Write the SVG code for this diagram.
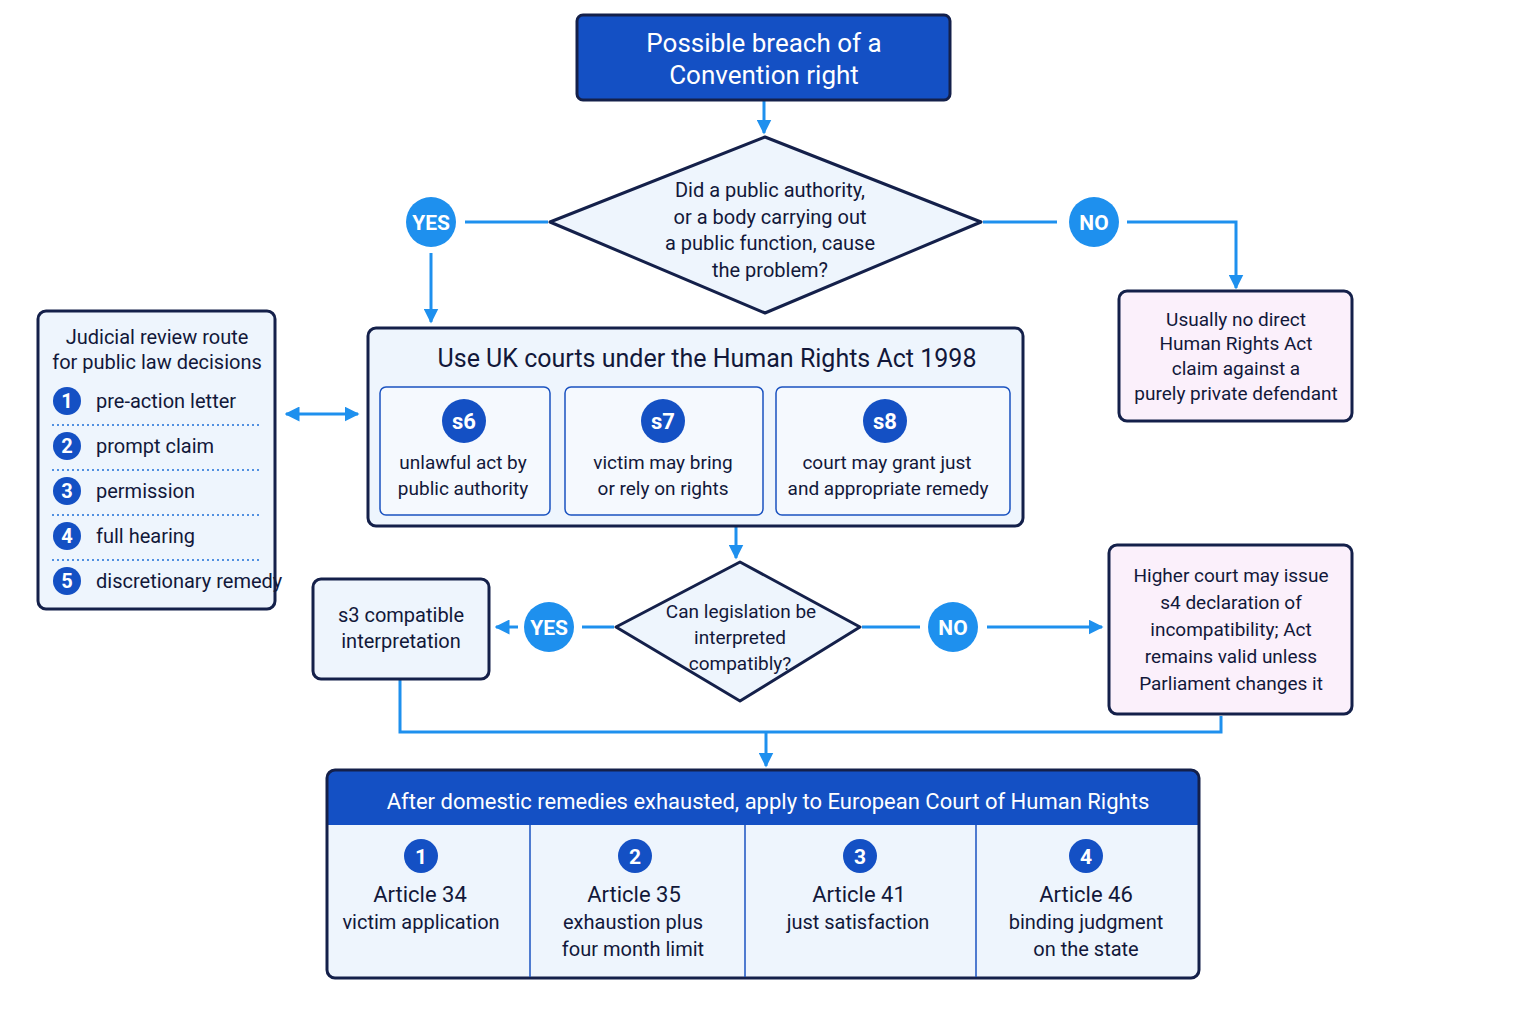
<svg xmlns="http://www.w3.org/2000/svg" width="1536" height="1024" viewBox="0 0 1536 1024">
<defs>
<marker id="ah" viewBox="0 0 10 10" refX="9" refY="5" markerWidth="5" markerHeight="5" orient="auto-start-reverse"><path d="M0,0 L10,5 L0,10 z" fill="#1e90ee"/></marker>
</defs>
<style>
text{font-family:Roboto,"Liberation Sans",sans-serif;fill:#12183a;text-anchor:middle}
.w{fill:#fff}
.lt{fill:#eef5fd;stroke:#14204a;stroke-width:3}
.pk{fill:#fbf0fb;stroke:#14204a;stroke-width:3}
.in{fill:#f5f9fe;stroke:#1a52c0;stroke-width:1.5}
.c{fill:none;stroke:#1e90ee;stroke-width:3}
.bc{fill:#1e90ee}
.dc{fill:#1450c4}
.dot{stroke:#1e6fd8;stroke-width:1.5;stroke-dasharray:2 3}
</style>
<rect width="1536" height="1024" fill="#fff"/>
<g id="connectors">
<path class="c" d="M764,100 V133" marker-end="url(#ah)"/>
<path class="c" d="M548,222 H465"/>
<path class="c" d="M431,253 V322" marker-end="url(#ah)"/>
<path class="c" d="M983,222 H1057"/>
<path class="c" d="M1127,222 H1236 V288" marker-end="url(#ah)"/>
<path class="c" d="M286,414 H358" marker-start="url(#ah)" marker-end="url(#ah)"/>
<path class="c" d="M736,527 V558" marker-end="url(#ah)"/>
<path class="c" d="M614,627 H582"/>
<path class="c" d="M518,627 H496" marker-end="url(#ah)"/>
<path class="c" d="M862,627 H920"/>
<path class="c" d="M987,627 H1102" marker-end="url(#ah)"/>
<path class="c" d="M400,680 V732 H1221 V716"/>
<path class="c" d="M766,732 V766" marker-end="url(#ah)"/>
</g>
<g id="start">
<rect x="577" y="15" width="373" height="85" rx="6" fill="#1450c4" stroke="#14204a" stroke-width="3"/>
<text x="764" y="52" font-size="26" class="w">Possible breach of a</text>
<text x="764" y="84" font-size="26" class="w">Convention right</text>
</g>
<g id="q1">
<path class="lt" d="M765,137 L981,222 L765,313 L550,222 Z" stroke-linejoin="round"/>
<text x="770" y="197" font-size="20">Did a public authority,</text>
<text x="770" y="224" font-size="20">or a body carrying out</text>
<text x="770" y="250" font-size="20">a public function, cause</text>
<text x="770" y="277" font-size="20">the problem?</text>
</g>
<g id="yes1"><circle cx="431" cy="222" r="25" class="bc"/><text x="431" y="230" font-size="21" font-weight="bold" class="w">YES</text></g>
<g id="no1"><circle cx="1094" cy="222" r="25" class="bc"/><text x="1094" y="230" font-size="21" font-weight="bold" class="w">NO</text></g>
<g id="private">
<rect x="1119" y="291" width="233" height="130" rx="8" class="pk"/>
<text x="1236" y="326" font-size="19">Usually no direct</text>
<text x="1236" y="350" font-size="19">Human Rights Act</text>
<text x="1236" y="375" font-size="19">claim against a</text>
<text x="1236" y="400" font-size="19">purely private defendant</text>
</g>
<g id="jr">
<rect x="38" y="311" width="237" height="298" rx="8" class="lt"/>
<text x="157" y="344" font-size="20">Judicial review route</text>
<text x="157" y="369" font-size="20">for public law decisions</text>
<g font-size="20">
<circle cx="67" cy="401" r="14" class="dc"/><text x="67" y="408" class="w" font-weight="bold">1</text><text x="96" y="408" style="text-anchor:start">pre-action letter</text>
<circle cx="67" cy="446" r="14" class="dc"/><text x="67" y="453" class="w" font-weight="bold">2</text><text x="96" y="453" style="text-anchor:start">prompt claim</text>
<circle cx="67" cy="491" r="14" class="dc"/><text x="67" y="498" class="w" font-weight="bold">3</text><text x="96" y="498" style="text-anchor:start">permission</text>
<circle cx="67" cy="536" r="14" class="dc"/><text x="67" y="543" class="w" font-weight="bold">4</text><text x="96" y="543" style="text-anchor:start">full hearing</text>
<circle cx="67" cy="581" r="14" class="dc"/><text x="67" y="588" class="w" font-weight="bold">5</text><text x="96" y="588" style="text-anchor:start">discretionary remedy</text>
</g>
<line x1="52" y1="425" x2="260" y2="425" class="dot"/>
<line x1="52" y1="470" x2="260" y2="470" class="dot"/>
<line x1="52" y1="515" x2="260" y2="515" class="dot"/>
<line x1="52" y1="560" x2="260" y2="560" class="dot"/>
</g>
<g id="hra">
<rect x="368" y="328" width="655" height="198" rx="8" class="lt"/>
<text x="707" y="367" font-size="25">Use UK courts under the Human Rights Act 1998</text>
<rect x="380" y="387" width="170" height="128" rx="6" class="in"/>
<rect x="565" y="387" width="198" height="128" rx="6" class="in"/>
<rect x="776" y="387" width="234" height="128" rx="6" class="in"/>
<circle cx="464" cy="421" r="22" class="dc"/><text x="464" y="429" font-size="22" font-weight="bold" class="w">s6</text>
<circle cx="663" cy="421" r="22" class="dc"/><text x="663" y="429" font-size="22" font-weight="bold" class="w">s7</text>
<circle cx="885" cy="421" r="22" class="dc"/><text x="885" y="429" font-size="22" font-weight="bold" class="w">s8</text>
<text x="463" y="469" font-size="19">unlawful act by</text><text x="463" y="495" font-size="19">public authority</text>
<text x="663" y="469" font-size="19">victim may bring</text><text x="663" y="495" font-size="19">or rely on rights</text>
<text x="887" y="469" font-size="19">court may grant just</text><text x="888" y="495" font-size="19">and appropriate remedy</text>
</g>
<g id="q2">
<path class="lt" d="M740,562 L860,627 L740,701 L616,627 Z" stroke-linejoin="round"/>
<text x="741" y="618" font-size="19">Can legislation be</text>
<text x="740" y="644" font-size="19">interpreted</text>
<text x="740" y="670" font-size="19">compatibly?</text>
</g>
<g id="yes2"><circle cx="549" cy="627" r="25" class="bc"/><text x="549" y="635" font-size="21" font-weight="bold" class="w">YES</text></g>
<g id="no2"><circle cx="953" cy="627" r="25" class="bc"/><text x="953" y="635" font-size="21" font-weight="bold" class="w">NO</text></g>
<g id="s3">
<rect x="313" y="579" width="176" height="100" rx="8" class="lt"/>
<text x="401" y="622" font-size="20">s3 compatible</text>
<text x="401" y="648" font-size="20">interpretation</text>
</g>
<g id="s4">
<rect x="1109" y="545" width="243" height="169" rx="8" class="pk"/>
<text x="1231" y="582" font-size="19">Higher court may issue</text>
<text x="1231" y="609" font-size="19">s4 declaration of</text>
<text x="1231" y="636" font-size="19">incompatibility; Act</text>
<text x="1231" y="663" font-size="19">remains valid unless</text>
<text x="1231" y="690" font-size="19">Parliament changes it</text>
</g>
<g id="echr">
<rect x="327" y="770" width="872" height="208" rx="8" fill="#eef5fd"/>
<path d="M335,770 H1191 A8,8 0 0 1 1199,778 V825 H327 V778 A8,8 0 0 1 335,770 Z" fill="#1450c4"/>
<rect x="327" y="770" width="872" height="208" rx="8" fill="none" stroke="#14204a" stroke-width="3"/>
<text x="768" y="809" font-size="22" class="w">After domestic remedies exhausted, apply to European Court of Human Rights</text>
<line x1="530" y1="825" x2="530" y2="977" stroke="#1a52c0" stroke-width="1.5"/>
<line x1="745" y1="825" x2="745" y2="977" stroke="#1a52c0" stroke-width="1.5"/>
<line x1="976" y1="825" x2="976" y2="977" stroke="#1a52c0" stroke-width="1.5"/>
<circle cx="421" cy="856" r="17" class="dc"/><text x="421" y="864" font-size="21" font-weight="bold" class="w">1</text>
<circle cx="635" cy="856" r="17" class="dc"/><text x="635" y="864" font-size="21" font-weight="bold" class="w">2</text>
<circle cx="860" cy="856" r="17" class="dc"/><text x="860" y="864" font-size="21" font-weight="bold" class="w">3</text>
<circle cx="1086" cy="856" r="17" class="dc"/><text x="1086" y="864" font-size="21" font-weight="bold" class="w">4</text>
<text x="420" y="902" font-size="22">Article 34</text><text x="421" y="929" font-size="20">victim application</text>
<text x="634" y="902" font-size="22">Article 35</text><text x="633" y="929" font-size="20">exhaustion plus</text><text x="633" y="956" font-size="20">four month limit</text>
<text x="859" y="902" font-size="22">Article 41</text><text x="858" y="929" font-size="20">just satisfaction</text>
<text x="1086" y="902" font-size="22">Article 46</text><text x="1086" y="929" font-size="20">binding judgment</text><text x="1086" y="956" font-size="20">on the state</text>
</g>
</svg>
